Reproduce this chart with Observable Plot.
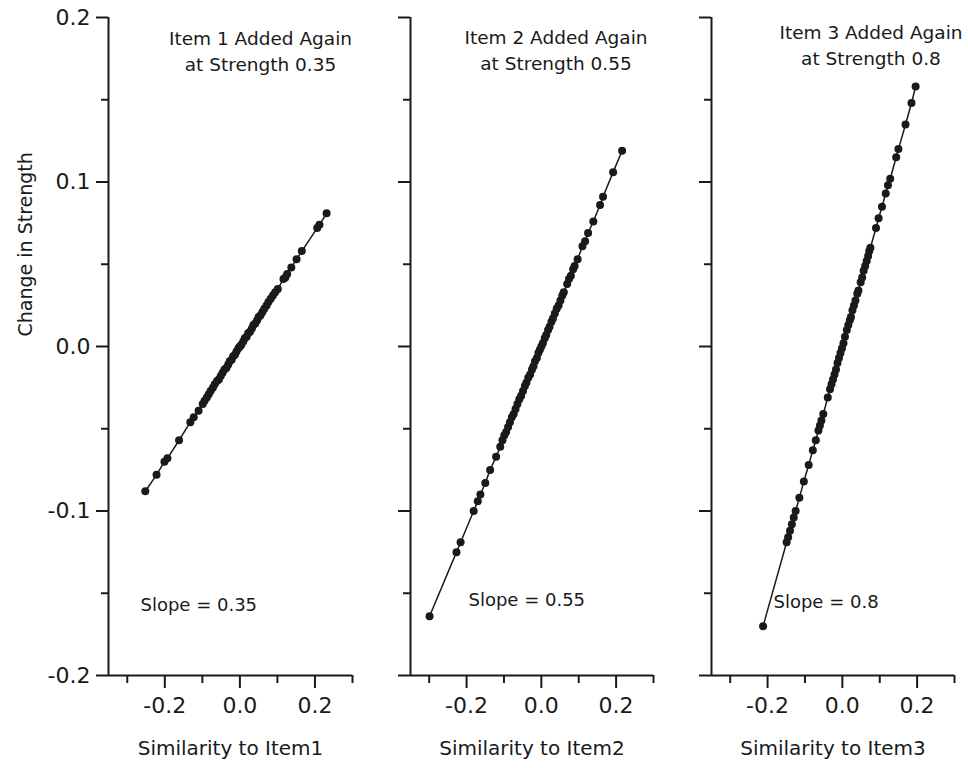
<!DOCTYPE html>
<html>
<head>
<meta charset="utf-8">
<script src="https://cdn.jsdelivr.net/npm/d3@7"></script>
<script src="https://cdn.jsdelivr.net/npm/@observablehq/plot@0.6"></script>
<style>
  html, body { margin: 0; padding: 0; background: #fff; }
  #wrap { position: relative; width: 968px; height: 768px; overflow: hidden; background: #fff; }
  .panel { position: absolute; top: 0; }
</style>
</head>
<body>
<div id="wrap"></div>
<script>
// ---- data ----
const xDomain = [-0.35, 0.3];
const yDomain = [-0.2, 0.2];
const yMajorTicks = [-0.2, -0.1, 0.0, 0.1, 0.2];
const yMinorTicks = [-0.15, -0.05, 0.05, 0.15];
const xMajorTicks = [-0.2, 0.0, 0.2];
const xMinorTicks = [-0.3, -0.1, 0.1, 0.3];

const panelTitles = ["Item 1 Added Again\nat Strength 0.35", "Item 2 Added Again\nat Strength 0.55", "Item 3 Added Again\nat Strength 0.8"];
const slopeLabels = ["Slope = 0.35", "Slope = 0.55", "Slope = 0.8"];
const xLabels = ["Similarity to Item1", "Similarity to Item2", "Similarity to Item3"];
const yLabel = "Change in Strength";

const sim1 = [-0.252, -0.222, -0.201, -0.193, -0.162, -0.132, -0.123, -0.110, -0.099, -0.094, -0.088, -0.083, -0.078, -0.072, -0.067, -0.061, -0.056, -0.051, -0.046, -0.041, -0.036, -0.031, -0.027, -0.022, -0.018, -0.013, -0.009, -0.004, 0.000, 0.004, 0.009, 0.013, 0.018, 0.022, 0.027, 0.032, 0.036, 0.041, 0.046, 0.050, 0.055, 0.060, 0.065, 0.071, 0.076, 0.082, 0.088, 0.094, 0.101, 0.116, 0.121, 0.126, 0.137, 0.151, 0.165, 0.206, 0.212, 0.231];
const chg1 = [-0.088, -0.078, -0.070, -0.068, -0.057, -0.046, -0.043, -0.039, -0.035, -0.033, -0.031, -0.029, -0.027, -0.025, -0.023, -0.021, -0.020, -0.018, -0.016, -0.014, -0.013, -0.011, -0.009, -0.008, -0.006, -0.005, -0.003, -0.001, 0.000, 0.001, 0.003, 0.005, 0.006, 0.008, 0.009, 0.011, 0.013, 0.014, 0.016, 0.018, 0.019, 0.021, 0.023, 0.025, 0.027, 0.029, 0.031, 0.033, 0.035, 0.041, 0.042, 0.044, 0.048, 0.053, 0.058, 0.072, 0.074, 0.081];

const sim2 = [-0.299, -0.227, -0.216, -0.181, -0.170, -0.163, -0.150, -0.137, -0.121, -0.110, -0.104, -0.099, -0.094, -0.089, -0.084, -0.079, -0.074, -0.069, -0.064, -0.059, -0.054, -0.049, -0.044, -0.040, -0.035, -0.030, -0.025, -0.021, -0.017, -0.012, -0.008, -0.004, 0.000, 0.004, 0.009, 0.013, 0.018, 0.022, 0.027, 0.031, 0.036, 0.041, 0.046, 0.051, 0.056, 0.060, 0.069, 0.074, 0.079, 0.085, 0.089, 0.097, 0.110, 0.117, 0.125, 0.139, 0.157, 0.165, 0.192, 0.216];
const chg2 = [-0.164, -0.125, -0.119, -0.100, -0.094, -0.090, -0.083, -0.075, -0.067, -0.061, -0.057, -0.054, -0.052, -0.049, -0.046, -0.043, -0.041, -0.038, -0.035, -0.032, -0.030, -0.027, -0.024, -0.022, -0.019, -0.017, -0.014, -0.012, -0.009, -0.007, -0.004, -0.002, 0.000, 0.002, 0.005, 0.007, 0.010, 0.012, 0.015, 0.017, 0.020, 0.023, 0.025, 0.028, 0.031, 0.033, 0.038, 0.041, 0.043, 0.047, 0.049, 0.053, 0.061, 0.064, 0.069, 0.076, 0.086, 0.091, 0.106, 0.119];

const sim3 = [-0.212, -0.149, -0.145, -0.140, -0.135, -0.130, -0.125, -0.115, -0.103, -0.090, -0.079, -0.071, -0.064, -0.060, -0.056, -0.051, -0.039, -0.033, -0.029, -0.025, -0.021, -0.017, -0.013, -0.009, -0.005, -0.001, 0.003, 0.007, 0.012, 0.016, 0.020, 0.023, 0.027, 0.031, 0.035, 0.040, 0.043, 0.049, 0.053, 0.057, 0.061, 0.065, 0.069, 0.072, 0.075, 0.090, 0.097, 0.106, 0.116, 0.122, 0.128, 0.144, 0.150, 0.169, 0.185, 0.196];
const chg3 = [-0.170, -0.119, -0.116, -0.112, -0.108, -0.104, -0.100, -0.092, -0.082, -0.072, -0.063, -0.057, -0.051, -0.048, -0.045, -0.041, -0.031, -0.026, -0.023, -0.020, -0.017, -0.014, -0.010, -0.007, -0.004, -0.001, 0.002, 0.006, 0.010, 0.013, 0.016, 0.018, 0.022, 0.025, 0.028, 0.032, 0.034, 0.039, 0.042, 0.046, 0.049, 0.052, 0.055, 0.058, 0.060, 0.072, 0.078, 0.085, 0.093, 0.098, 0.102, 0.115, 0.120, 0.135, 0.148, 0.158];

const sims = [sim1, sim2, sim3];
const chgs = [chg1, chg2, chg3];

// ---- layout (styling only) ----
const layout = [
  {left: 0,   width: 372, marginLeft: 108, marginRight: 20, titleDx: 30, titleDy: 9, slopeDx: 32, slopeDy: -70, showYLabels: true},
  {left: 390, width: 283, marginLeft: 20,  marginRight: 20, titleDx: 24, titleDy: 8, slopeDx: 58, slopeDy: -75, showYLabels: false},
  {left: 691, width: 277, marginLeft: 20,  marginRight: 14, titleDx: 38, titleDy: 3, slopeDx: 62, slopeDy: -73, showYLabels: false}
];

const ink = "#1a1a1a";
const font = "DejaVu Sans";
const wrap = document.getElementById("wrap");

for (let i = 0; i < 3; i++) {
  const L = layout[i];
  const data = sims[i].map((s, j) => ({sim: s, chg: chgs[i][j]}));
  const marks = [
    // axis lines
    Plot.ruleX([xDomain[0]], {y1: yDomain[0], y2: yDomain[1], stroke: ink, strokeWidth: 2}),
    Plot.ruleY([yDomain[0]], {x1: xDomain[0], x2: xDomain[1], stroke: ink, strokeWidth: 2}),
    // y ticks
    Plot.axisY({ticks: yMajorTicks, tickSize: 12, tickPadding: 6, strokeWidth: 2, stroke: ink, fontSize: 22, label: null,
      tickFormat: L.showYLabels ? (d => d3.format(".1f")(d).replace("−", "-")) : (() => "")}),
    Plot.axisY({ticks: yMinorTicks, tickSize: 7, strokeWidth: 2, stroke: ink, label: null, tickFormat: () => ""}),
    // x ticks
    Plot.axisX({ticks: xMajorTicks, tickSize: 13, tickPadding: 9, strokeWidth: 2, stroke: ink, fontSize: 22, label: null,
      tickFormat: d => d3.format(".1f")(d).replace("−", "-")}),
    Plot.axisX({ticks: xMinorTicks, tickSize: 8, strokeWidth: 2, stroke: ink, label: null, tickFormat: () => ""}),
    // data
    Plot.line(data, {x: "sim", y: "chg", stroke: ink, strokeWidth: 1.5}),
    Plot.dot(data, {x: "sim", y: "chg", r: 4, fill: ink, stroke: "none"}),
    // annotations
    Plot.text([panelTitles[i]], {text: d => d, frameAnchor: "top", lineAnchor: "top", dx: L.titleDx, dy: L.titleDy, fontSize: 18.5, lineHeight: 1.4, fill: ink}),
    Plot.text([slopeLabels[i]], {text: d => d, frameAnchor: "bottom-left", textAnchor: "start", lineAnchor: "middle", dx: L.slopeDx, dy: L.slopeDy, fontSize: 18, fill: ink}),
    Plot.text([xLabels[i]], {text: d => d, frameAnchor: "bottom", lineAnchor: "middle", dy: 73, fontSize: 20, fill: ink})
  ];
  if (i === 0) {
    marks.push(Plot.text([yLabel], {text: d => d, frameAnchor: "left", rotate: -90, dx: -83, dy: -10, fontSize: 19, fill: ink}));
  }
  const svg = Plot.plot({
    width: L.width,
    height: 768,
    marginLeft: L.marginLeft,
    marginRight: L.marginRight,
    marginTop: 17,
    marginBottom: 93,
    x: {domain: xDomain},
    y: {domain: yDomain},
    style: {fontFamily: font, color: ink, background: "transparent", overflow: "visible"},
    marks
  });
  const div = document.createElement("div");
  div.className = "panel";
  div.style.left = L.left + "px";
  div.appendChild(svg);
  wrap.appendChild(div);
}
</script>
</body>
</html>
